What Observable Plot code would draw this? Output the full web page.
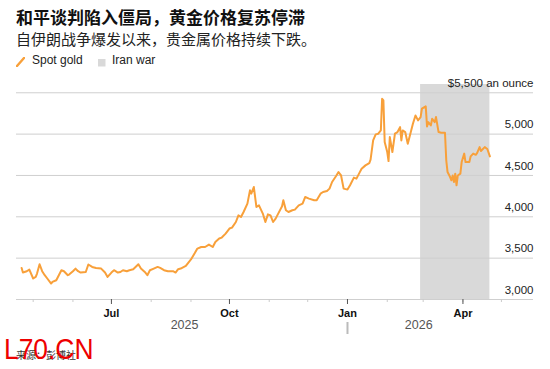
<!DOCTYPE html>
<html>
<head>
<meta charset="utf-8">
<script src="https://cdn.jsdelivr.net/npm/d3@7"></script>
<script src="https://cdn.jsdelivr.net/npm/@observablehq/plot@0.6"></script>
<style>
  html, body { margin: 0; padding: 0; background: #fff; }
  body { width: 550px; height: 369px; position: relative; overflow: hidden; font-family: "Liberation Sans", Arial, sans-serif; }
  #title { position: absolute; left: 16px; top: 8px; font: bold 17px/17px "Noto Sans CJK SC", sans-serif; color: #111; white-space: nowrap; }
  #subtitle { position: absolute; left: 16px; top: 31px; font: 15px/15px "Noto Sans CJK SC", sans-serif; color: #222; white-space: nowrap; }
  #legend { position: absolute; left: 0; top: 54px; height: 14px; width: 300px; font: 12px/12px "Liberation Sans", Arial, sans-serif; color: #222; }
  #legend .item { position: absolute; top: 0; white-space: nowrap; }
  #chart { position: absolute; left: 0; top: 70px; }
  #source { position: absolute; left: 16px; top: 350px; font: 10px/10px "Noto Sans CJK SC", sans-serif; color: #333; white-space: nowrap; }
  #mark { position: absolute; left: 4px; top: 335px; font: 29px/29px "Liberation Sans", Arial, sans-serif; color: #e00; white-space: nowrap; transform: scaleX(0.91); transform-origin: left top; }
</style>
</head>
<body>
<div id="title">和平谈判陷入僵局，黄金价格复苏停滞</div>
<div id="subtitle">自伊朗战争爆发以来，贵金属价格持续下跌。</div>
<div id="legend"></div>
<div id="chart"></div>
<div id="source">来源：彭博社</div>
<div id="mark">L70.CN</div>
<script>
// ---- Data ----
const months = [
  "2025-04","2025-05","2025-06","2025-07","2025-08","2025-09","2025-10",
  "2025-11","2025-12","2026-01","2026-02","2026-03","2026-04"
];
const days = [
  [22,23,26,28],
  [1,3,4,6,8,10,12,15,16,19,21,23,25,28,29],
  [1,3,5,7,11,13,16,19,23,26,28],
  [1,3,6,8,10,13,15,18,22,24,27,29,31],
  [3,6,8,11,14,18,20,22,24,28,30],
  [1,4,6,9,12,15,18,20,23,25,28],
  [1,3,6,8,10,12,15,17,18,20,22,24,27,29,31],
  [2,4,6,8,11,12,14,16,19,21,24,27,29],
  [2,6,8,11,13,16,18,20,23,25,27,29],
  [1,3,6,8,10,12,15,18,19,21,23,25,27,28,29,30],
  [1,2,3,5,7,9,11,12,13,15,17,19,21,23,25,27,28],
  [3,4,5,7,8,10,11,13,15,18,19,20,22,23,24,25,26,27,28,30,31],
  [2,3,6,7,9,11,12,14,15,18,20,22]
];
const prices = [
  [3382,3326,3342,3362],
  [3254,3273,3314,3426,3342,3294,3254,3193,3213,3233,3294,3354,3342,3294,3302],
  [3342,3374,3342,3326,3333,3423,3394,3382,3374,3326,3273],
  [3326,3354,3326,3333,3354,3342,3354,3366,3426,3374,3333,3294,3354],
  [3374,3394,3382,3354,3342,3342,3326,3366,3374,3406,3447],
  [3485,3562,3616,3635,3635,3664,3635,3696,3737,3749,3797],
  [3858,3870,3937,4018,3998,4058,4160,4320,4280,4360,4119,4139,4039,3937,4030],
  [4018,3937,3978,4039,4127,4200,4079,4058,4079,4087,4139,4160,4239],
  [4220,4200,4200,4280,4300,4312,4341,4421,4490,4541,4500,4341],
  [4329,4381,4474,4462,4522,4582,4622,4650,4691,4924,4997,5005,5045,5428,5407,4904],
  [4783,4674,4964,4783,5005,5025,5085,4924,5045,5025,4884,5005,5126,5226,5166,5206,5307],
  [5335,5093,5145,5105,5186,5145,5206,5025,5017,5017,4683,4541,4481,4441,4500,4421,4522,4381,4500,4522,4662],
  [4764,4662,4662,4731,4764,4750,4771,4843,4795,4843,4820,4731]
];
const warStart = "2026-02-27";
const warEnd = "2026-04-22";
const xStart = "2025-04-18";
const xEnd = "2026-05-26";
const yTicks = [3000, 3500, 4000, 4500, 5000, 5500];
const yTickLabels = ["3,000", "3,500", "4,000", "4,500", "5,000", "$5,500 an ounce"];
const yMax = 5600;
const seriesLabels = ["Spot gold", "Iran war"];
const colors = { gold: "#f8a03a", war: "#d9d9d9" };

// ---- Build table ----
const gold = [];
months.forEach((m, i) => days[i].forEach((d, j) => {
  gold.push({ date: new Date(`${m}-${String(d).padStart(2, "0")}T00:00:00Z`), price: prices[i][j] });
}));
const war = [{ start: new Date(warStart + "T00:00:00Z"), end: new Date(warEnd + "T00:00:00Z") }];
const yearBoundary = new Date("2026-01-01T00:00:00Z");
const first = gold[0].date, last = gold[gold.length - 1].date;
const yearLabels = [
  { year: "2025", mid: new Date((+first + +yearBoundary) / 2) },
  { year: "2026", mid: new Date((+yearBoundary + +last) / 2) }
];
const monthTicks = d3.utcMonth.range(new Date(xStart + "T00:00:00Z"), new Date(xEnd + "T00:00:00Z"));
const quarterTicks = monthTicks.filter(d => d.getUTCMonth() % 3 === 0);

// ---- Legend ----
const legend = document.getElementById("legend");
legend.innerHTML = `
  <svg class="item" style="left:16px;top:3px" width="9" height="10"><line x1="1" y1="9" x2="8" y2="1" stroke="${colors.gold}" stroke-width="2.4" stroke-linecap="round"/></svg>
  <span class="item" style="left:32px">${seriesLabels[0]}</span>
  <svg class="item" style="left:98px;top:5px" width="8" height="8"><rect width="7.5" height="7.5" fill="${colors.war}"/></svg>
  <span class="item" style="left:112px">${seriesLabels[1]}</span>`;

// ---- Plot ----
const H = 270, MT = 14, MB = 41;
const chart = Plot.plot({
  width: 550,
  height: H,
  marginTop: MT,
  marginBottom: MB,
  marginLeft: 16,
  marginRight: 17,
  x: { type: "utc", domain: [new Date(xStart + "T00:00:00Z"), new Date(xEnd + "T00:00:00Z")], label: null, axis: null },
  y: { domain: [3000, yMax], label: null, axis: null },
  style: { fontFamily: "'Liberation Sans', Arial, sans-serif", fontSize: "11px", color: "#222", background: "transparent", overflow: "visible" },
  marks: [
    Plot.rect(war, { x1: "start", x2: "end", fill: colors.war }),
    Plot.gridY(yTicks, { stroke: "#cfcfcf", strokeOpacity: 1, strokeWidth: 1 }),
    Plot.axisX(monthTicks, { tickSize: 3, stroke: "#cccccc", fill: "none", label: null }),
    Plot.axisX(quarterTicks, { tickSize: 5, tickPadding: 5, stroke: "#555", fill: "#111", fontWeight: "bold", fontSize: 11, tickFormat: d3.utcFormat("%b"), label: null }),
    Plot.ruleX([yearBoundary], { stroke: "#bbbbbb", strokeWidth: 2, insetTop: (H - MT - MB) + 23, insetBottom: -35 }),
    Plot.text(yearLabels, { x: "mid", text: "year", frameAnchor: "bottom", dy: 29, fill: "#555", fontSize: 12.5, letterSpacing: "0.5px" }),
    Plot.line(gold, { x: "date", y: "price", stroke: colors.gold, strokeWidth: 2, strokeLinejoin: "round" }),
    Plot.text(yTicks, { y: d => d, text: (d, i) => yTickLabels[i], frameAnchor: "right", textAnchor: "end", dy: -9.5, fill: "#222", fontSize: 11.5 })
  ]
});
document.getElementById("chart").appendChild(chart);
</script>
</body>
</html>
